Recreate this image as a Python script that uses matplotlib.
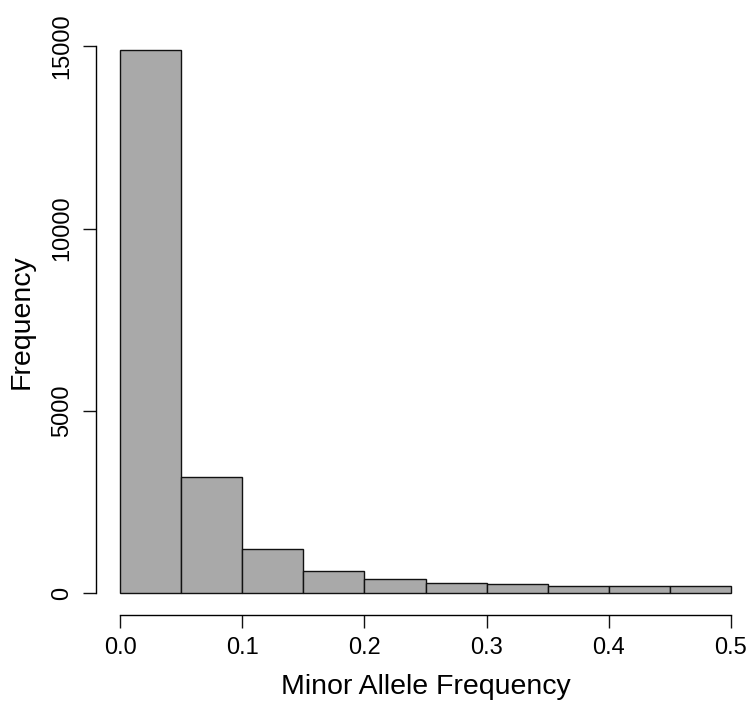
import numpy as np
import matplotlib as mpl; mpl.use('Agg')
import matplotlib.pyplot as plt

mpl.rcParams.update({'font.family': 'Liberation Sans'})

# histogram bins (MAF) and counts
bin_edges = [0.0, 0.05, 0.10, 0.15, 0.20, 0.25, 0.30, 0.35, 0.40, 0.45, 0.50]
counts = [14890, 3190, 1215, 620, 385, 290, 250, 212, 205, 205]
xticks = [0.0, 0.1, 0.2, 0.3, 0.4, 0.5]
xticklabels = ['0.0', '0.1', '0.2', '0.3', '0.4', '0.5']
yticks = [0, 5000, 10000, 15000]

fig = plt.figure(figsize=(7.52, 7.10), dpi=100)
ax = fig.add_axes([0.1273, 0.1338, 1.0045 - 0.1273, 0.96 - 0.1338])

edges = np.array(bin_edges)
ax.bar(edges[:-1], counts, width=np.diff(edges), align='edge',
       color='#a9a9a9', edgecolor='#111111', linewidth=1.0)

# R-style axes: 4% padding, detached axis lines from first to last tick
ymax = max(counts)
ax.set_xlim(-0.02, 0.52)
ax.set_ylim(-0.04 * ymax, ymax * 1.04)
for s in ('top', 'right'):
    ax.spines[s].set_visible(False)
ax.spines['bottom'].set_bounds(0.0, 0.5)
ax.spines['left'].set_bounds(0, 15000)
for s in ('bottom', 'left'):
    ax.spines[s].set_linewidth(1.0)

ax.set_xticks(xticks)
ax.set_xticklabels(xticklabels)
ax.set_yticks(yticks)
ax.set_yticklabels([str(v) for v in yticks], rotation=90, va='center')
ax.tick_params(axis='both', direction='out', length=9.5, width=1.0, labelsize=17, color='#111111')
ax.tick_params(axis='x', pad=6.0)
ax.tick_params(axis='y', pad=6.5)

ax.set_xlabel('Minor Allele Frequency', fontsize=20.5, labelpad=11)
ax.set_ylabel('Frequency', fontsize=20.5, labelpad=12)

fig.savefig('out.png', dpi=100)
